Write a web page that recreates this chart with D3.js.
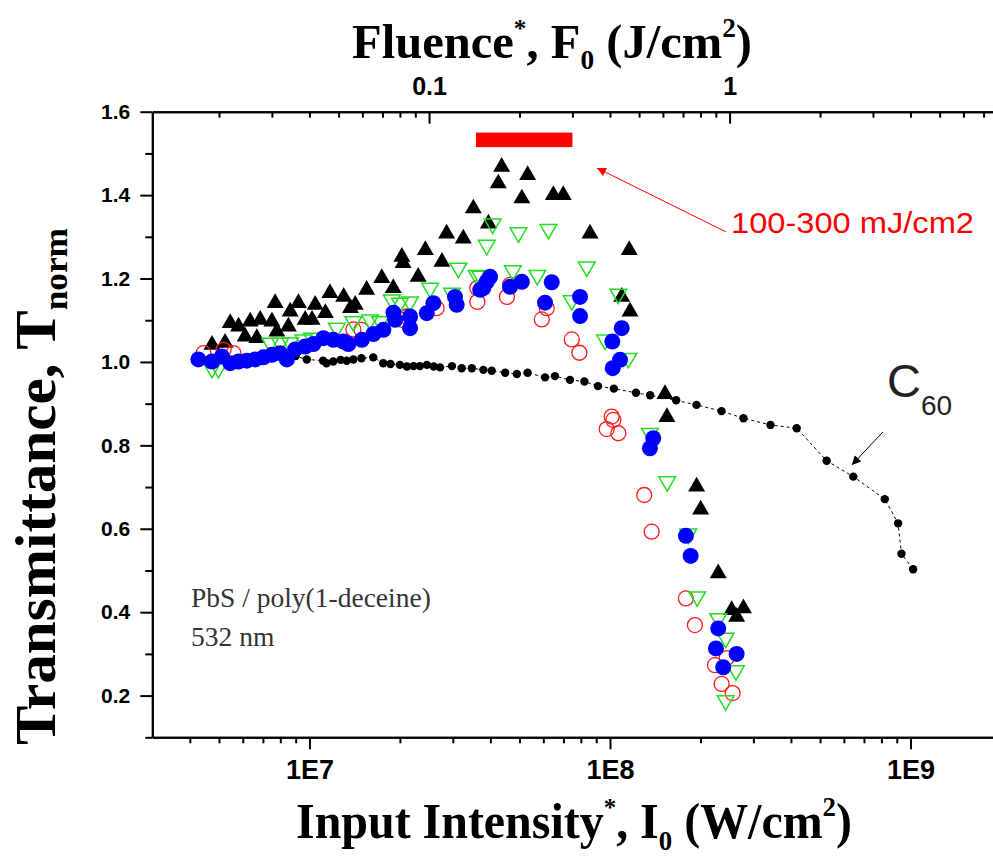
<!DOCTYPE html>
<html>
<head>
<meta charset="utf-8">
<script src="https://cdn.jsdelivr.net/npm/d3@7"></script>
<style>
  html, body { margin: 0; padding: 0; background: #fff; }
  svg { display: block; }
</style>
</head>
<body>
<svg id="chart" width="993" height="860"></svg>
<script>
// ---------------- DATA ----------------
// [Input intensity (W/cm2), normalized transmittance]
const c60 = [[8.5e6,1.014],[9.0e6,1.014],[9.8e6,1.006],[1.11e7,1.003],[1.14e7,0.997],[1.20e7,1.001],[1.27e7,1.005],[1.33e7,1.003],[1.40e7,1.006],[1.49e7,1.009],[1.63e7,1.011],[1.76e7,0.997],[1.86e7,0.995],[2.00e7,0.993],[2.11e7,0.989],[2.22e7,0.990],[2.33e7,0.990],[2.46e7,0.993],[2.59e7,0.989],[2.72e7,0.987],[2.98e7,0.990],[3.21e7,0.985],[3.47e7,0.985],[3.79e7,0.981],[4.04e7,0.979],[4.48e7,0.974],[4.90e7,0.971],[5.32e7,0.974],[6.08e7,0.963],[6.56e7,0.966],[7.36e7,0.957],[8.22e7,0.953],[9.12e7,0.942],[1.03e8,0.936],[1.22e8,0.926],[1.36e8,0.920],[1.66e8,0.908],[1.94e8,0.897],[2.35e8,0.882],[2.78e8,0.865],[3.42e8,0.849],[4.18e8,0.841],[5.26e8,0.763],[6.45e8,0.725],[8.21e8,0.671],[9.09e8,0.613],[9.33e8,0.540],[1.02e9,0.503]];

const blackTri = [[4.74e6,1.041],[5.24e6,1.046],[5.45e6,1.093],[5.81e6,1.085],[6.11e6,1.061],[6.35e6,1.097],[6.68e6,1.057],[6.86e6,1.101],[7.50e6,1.097],[7.69e6,1.141],[7.79e6,1.073],[8.51e6,1.085],[8.63e6,1.121],[9.19e6,1.141],[9.68e6,1.101],[1.02e7,1.101],[1.045e7,1.137],[1.13e7,1.117],[1.17e7,1.165],[1.30e7,1.156],[1.37e7,1.129],[1.42e7,1.137],[1.55e7,1.173],[1.74e7,1.201],[1.90e7,1.177],[2.03e7,1.252],[2.05e7,1.237],[2.30e7,1.204],[2.43e7,1.268],[2.76e7,1.240],[2.86e7,1.308],[3.25e7,1.296],[3.51e7,1.368],[3.94e7,1.332],[4.25e7,1.428],[4.36e7,1.468],[5.09e7,1.392],[5.32e7,1.448],[6.48e7,1.400],[6.99e7,1.400],[8.58e7,1.308],[1.094e8,1.156],[1.159e8,1.268],[1.166e8,1.121],[1.524e8,0.923],[1.547e8,0.868],[1.942e8,0.701],[2.003e8,0.646],[2.292e8,0.493],[2.54e8,0.405],[2.64e8,0.389],[2.78e8,0.409]];

const redCirc = [[4.44e6,1.021],[5.18e6,1.029],[5.59e6,1.021],[1.40e7,1.078],[1.49e7,1.077],[2.03e7,1.101],[2.11e7,1.109],[2.65e7,1.129],[3.62e7,1.177],[3.62e7,1.144],[4.54e7,1.156],[4.65e7,1.185],[5.93e7,1.102],[6.16e7,1.129],[7.46e7,1.054],[7.91e7,1.022],[9.75e7,0.839],[1.013e8,0.869],[1.026e8,0.861],[1.066e8,0.829],[1.30e8,0.681],[1.376e8,0.593],[1.789e8,0.433],[1.917e8,0.369],[2.235e8,0.273],[2.444e8,0.290],[2.352e8,0.228],[2.559e8,0.206]];

const greenTri = [[4.74e6,0.985],[4.98e6,0.985],[7.40e6,1.045],[7.99e6,1.045],[8.63e6,1.046],[9.55e6,1.053],[1.02e7,1.057],[1.233e7,1.081],[1.40e7,1.097],[1.59e7,1.101],[1.72e7,1.097],[1.88e7,1.149],[2.00e7,1.141],[2.16e7,1.144],[2.52e7,1.177],[2.98e7,1.165],[3.13e7,1.225],[3.60e7,1.208],[3.70e7,1.206],[3.89e7,1.280],[4.07e7,1.331],[4.75e7,1.219],[4.96e7,1.310],[5.73e7,1.208],[6.24e7,1.318],[7.46e7,1.147],[8.37e7,1.228],[9.63e7,1.053],[1.066e8,1.163],[1.151e8,1.009],[1.358e8,0.829],[1.55e8,0.713],[1.822e8,0.588],[1.951e8,0.437],[2.292e8,0.385],[2.426e8,0.338],[2.624e8,0.260],[2.426e8,0.188]];

const blueCirc = [[4.27e6,1.006],[4.74e6,1.001],[5.11e6,1.013],[5.45e6,0.997],[5.81e6,1.001],[6.19e6,1.003],[6.60e6,1.006],[7.03e6,1.011],[7.50e6,1.017],[7.99e6,1.021],[8.41e6,1.006],[8.96e6,1.030],[9.68e6,1.037],[1.031e7,1.043],[1.113e7,1.057],[1.202e7,1.053],[1.297e7,1.049],[1.348e7,1.043],[1.494e7,1.053],[1.633e7,1.067],[1.762e7,1.077],[1.903e7,1.118],[1.928e7,1.101],[2.162e7,1.109],[2.162e7,1.081],[2.457e7,1.117],[2.585e7,1.141],[3.05e7,1.156],[3.09e7,1.137],[3.70e7,1.173],[3.79e7,1.177],[3.89e7,1.192],[3.99e7,1.204],[4.65e7,1.180],[5.09e7,1.192],[6.40e7,1.191],[6.08e7,1.142],[7.95e7,1.156],[7.95e7,1.110],[1.094e8,1.081],[1.018e8,1.049],[1.08e8,1.005],[1.021e8,0.985],[1.393e8,0.817],[1.358e8,0.793],[1.789e8,0.583],[1.855e8,0.535],[2.292e8,0.361],[2.252e8,0.313],[2.639e8,0.300],[2.381e8,0.268]];

// axis definitions
const xDomain = [3e6, 2e9];           // input intensity, W/cm2
const yDomain = [0.1, 1.6];           // normalized transmittance
const pulseWidth = 4e-9;              // s, fluence = I * tau
const xMajor = [1e7, 1e8, 1e9];
const xMinor = [4e6,5e6,6e6,7e6,8e6,9e6,2e7,3e7,4e7,5e7,6e7,7e7,8e7,9e7,2e8,3e8,4e8,5e8,6e8,7e8,8e8,9e8,2e9];
const fMajor = [0.1, 1];
const fMinor = [0.02,0.03,0.04,0.05,0.06,0.07,0.08,0.09,0.2,0.3,0.4,0.5,0.6,0.7,0.8,0.9,2,3,4,5,6,7,8];
const yMajor = [0.2,0.4,0.6,0.8,1.0,1.2,1.4,1.6];
const yMinor = [0.1,0.3,0.5,0.7,0.9,1.1,1.3,1.5];
const xTickLabels = ["1E7","1E8","1E9"];
const fTickLabels = ["0.1","1"];

// annotations (data coords)
const barRange = [3.58e7, 7.5e7];
const barT = [1.515, 1.55];
const redArrow = {from:[2.43e8,1.312], to:[9.05e7,1.465]};
const blackArrow = {from:[8.09e8,0.832], to:[6.38e8,0.753]};

// ---------------- CHART ----------------
const svg = d3.select("#chart");
svg.append("rect").attr("width",993).attr("height",860).attr("fill","#fff");

const L = 152.3, R = 1001, T = 111.7, B = 737.3;
const x = d3.scaleLog().domain(xDomain).range([L, R]);
const xF = d3.scaleLog().domain(xDomain.map(d => d*pulseWidth)).range([L, R]);
const y = d3.scaleLinear().domain(yDomain).range([B, T]);

const sansBold = "'Liberation Sans', Arial, sans-serif";
const serif = "'Liberation Serif', 'Times New Roman', serif";

function styleAxis(g, fs) {
  g.selectAll("path.domain").attr("stroke","#000").attr("stroke-width",2);
  g.selectAll(".tick line").attr("stroke","#000").attr("stroke-width",2);
  g.selectAll(".tick text").attr("fill","#000").style("font-family",sansBold)
    .style("font-weight","bold").style("font-size",fs+"px");
}

// bottom axis
const gxMinor = svg.append("g").attr("transform",`translate(0,${B})`)
  .call(d3.axisBottom(x).tickValues(xMinor).tickSize(6).tickSizeOuter(0).tickFormat(""));
styleAxis(gxMinor, 27);
const gx = svg.append("g").attr("transform",`translate(0,${B})`)
  .call(d3.axisBottom(x).tickValues(xMajor).tickSize(12).tickSizeOuter(0).tickPadding(10.7)
    .tickFormat((d,i) => xTickLabels[i]));
styleAxis(gx, 27);

// top axis (fluence)
const gfMinor = svg.append("g").attr("transform",`translate(0,${T})`)
  .call(d3.axisTop(xF).tickValues(fMinor).tickSize(-6).tickSizeOuter(0).tickFormat(""));
styleAxis(gfMinor, 25);
const gf = svg.append("g").attr("transform",`translate(0,${T})`)
  .call(d3.axisTop(xF).tickValues(fMajor).tickSize(-12).tickSizeOuter(0).tickPadding(17)
    .tickFormat((d,i) => fTickLabels[i]));
styleAxis(gf, 25);

// left axis
const gyMinor = svg.append("g").attr("transform",`translate(${L},0)`)
  .call(d3.axisLeft(y).tickValues(yMinor).tickSize(7).tickSizeOuter(0).tickFormat(""));
styleAxis(gyMinor, 21);
const gy = svg.append("g").attr("transform",`translate(${L},0)`)
  .call(d3.axisLeft(y).tickValues(yMajor).tickSize(12).tickSizeOuter(0).tickPadding(10)
    .tickFormat(d3.format(".1f")));
styleAxis(gy, 21);

// clip for data
svg.append("clipPath").attr("id","plotclip").append("rect")
  .attr("x",L).attr("y",T).attr("width",R-L).attr("height",B-T);
const plot = svg.append("g").attr("clip-path","url(#plotclip)");

// C60 dashed line + dots
plot.append("path").datum(c60)
  .attr("d", d3.line().x(d => x(d[0])).y(d => y(d[1])))
  .attr("fill","none").attr("stroke","#000").attr("stroke-width",1)
  .attr("stroke-dasharray","3,3");
plot.selectAll("circle.c60").data(c60).join("circle").attr("class","c60")
  .attr("cx",d => x(d[0])).attr("cy",d => y(d[1])).attr("r",4.2).attr("fill","#000");

const triUp = d3.symbol().type(d3.symbolTriangle).size(125);
// black filled triangles
plot.selectAll("path.bt").data(blackTri).join("path").attr("class","bt")
  .attr("d", triUp)
  .attr("transform", d => `translate(${x(d[0])},${y(d[1])})`)
  .attr("fill","#000");

// red open circles
plot.selectAll("circle.rc").data(redCirc).join("circle").attr("class","rc")
  .attr("cx",d => x(d[0])).attr("cy",d => y(d[1])).attr("r",7.5)
  .attr("fill","none").attr("stroke","#ff1a1a").attr("stroke-width",1.3);

// green open down triangles
plot.selectAll("path.gt").data(greenTri).join("path").attr("class","gt")
  .attr("d", d3.symbol().type(d3.symbolTriangle).size(120))
  .attr("transform", d => `translate(${x(d[0])},${y(d[1])}) rotate(180)`)
  .attr("fill","none").attr("stroke","#22dd22").attr("stroke-width",1.5);

// blue filled circles
plot.selectAll("circle.bc").data(blueCirc).join("circle").attr("class","bc")
  .attr("cx",d => x(d[0])).attr("cy",d => y(d[1])).attr("r",8)
  .attr("fill","#0000ff");

// red bar
svg.append("rect")
  .attr("x", x(barRange[0])).attr("width", x(barRange[1]) - x(barRange[0]))
  .attr("y", y(barT[1])).attr("height", y(barT[0]) - y(barT[1]))
  .attr("fill","#ff0000");

// arrows
const defs = svg.append("defs");
function marker(id, color) {
  defs.append("marker").attr("id",id).attr("viewBox","0 0 10 10")
    .attr("refX",10).attr("refY",5).attr("markerWidth",14).attr("markerHeight",9)
    .attr("markerUnits","userSpaceOnUse").attr("orient","auto")
    .append("path").attr("d","M0,0 L10,5 L0,10 z").attr("fill",color);
}
marker("arrRed","#ff0000");
marker("arrBlack","#000");
svg.append("line")
  .attr("x1",x(redArrow.from[0])).attr("y1",y(redArrow.from[1]))
  .attr("x2",x(redArrow.to[0])).attr("y2",y(redArrow.to[1]))
  .attr("stroke","#ff0000").attr("stroke-width",1).attr("marker-end","url(#arrRed)");
svg.append("line")
  .attr("x1",x(blackArrow.from[0])).attr("y1",y(blackArrow.from[1]))
  .attr("x2",x(blackArrow.to[0])).attr("y2",y(blackArrow.to[1]))
  .attr("stroke","#000").attr("stroke-width",1).attr("marker-end","url(#arrBlack)");

// annotation texts
svg.append("text").attr("x",731).attr("y",233)
  .style("font-family","'Liberation Sans', Arial, sans-serif").style("font-size","30px")
  .attr("textLength",243).attr("lengthAdjust","spacingAndGlyphs")
  .attr("fill","#ff0000").text("100-300 mJ/cm2");

const c60t = svg.append("text").attr("x",887).attr("y",397)
  .style("font-family","'Liberation Sans', Arial, sans-serif").attr("fill","#222");
c60t.append("tspan").style("font-size","47px").text("C");
c60t.append("tspan").style("font-size","28px").attr("dy",18).text("60");

const pbs = svg.append("text").style("font-family",serif).style("font-size","27.5px").attr("fill","#333");
pbs.append("tspan").attr("x",191).attr("y",607).text("PbS / poly(1-deceine)");
pbs.append("tspan").attr("x",191).attr("y",646).text("532 nm");

// axis titles
function title(sel, parts) {
  parts.forEach(p => {
    const t = sel.append("tspan").text(p.t).style("font-size", p.s + "px");
    if (p.dy) t.attr("dy", p.dy);
  });
}
const bt = svg.append("text").attr("x",574).attr("y",838).attr("text-anchor","middle")
  .attr("textLength",556).attr("lengthAdjust","spacingAndGlyphs")
  .style("font-family",serif).style("font-weight","bold").attr("fill","#000");
title(bt, [
  {t:"Input Intensity", s:50},
  {t:"*", s:26, dy:-22},
  {t:", I", s:50, dy:22},
  {t:"0", s:28, dy:12},
  {t:" (W/cm", s:50, dy:-12},
  {t:"2", s:28, dy:-22},
  {t:")", s:50, dy:22}
]);

const tt = svg.append("text").attr("x",552).attr("y",58).attr("text-anchor","middle")
  .attr("textLength",400).attr("lengthAdjust","spacingAndGlyphs")
  .style("font-family",serif).style("font-weight","bold").attr("fill","#000");
title(tt, [
  {t:"Fluence", s:48},
  {t:"*", s:25, dy:-21},
  {t:", F", s:48, dy:21},
  {t:"0", s:27, dy:11},
  {t:" (J/cm", s:48, dy:-11},
  {t:"2", s:27, dy:-21},
  {t:")", s:48, dy:21}
]);

const yt = svg.append("text").attr("transform","translate(55,486.5) rotate(-90)")
  .attr("text-anchor","middle")
  .attr("textLength",517).attr("lengthAdjust","spacingAndGlyphs")
  .style("font-family",serif).style("font-weight","bold").attr("fill","#000");
title(yt, [
  {t:"Transmittance, T", s:57},
  {t:"norm", s:34, dy:12}
]);
</script>
</body>
</html>
